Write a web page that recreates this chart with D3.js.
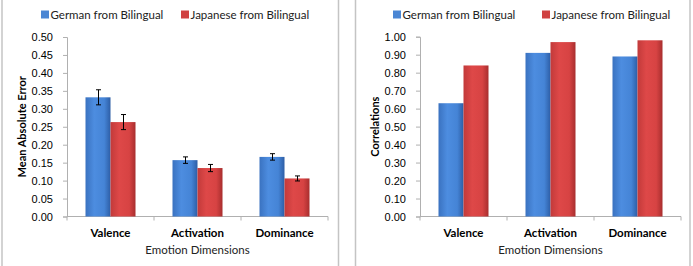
<!DOCTYPE html>
<html lang="en">
<head>
    <meta charset="UTF-8">
    <title>Emotion dimensions</title>
    <script src="https://d3js.org/d3.v7.min.js"></script>
    <style>
        body { margin: 0; background: #fff; }
        svg { display: block; font-family: "Lato", "Open Sans", sans-serif; }
        .tick text { font-size: 11px; fill: #000; }
    </style>
</head>
<body>
    <div id="chart"></div>
    <script>
        // values
        var categories = ["Valence", "Activation", "Dominance"];
        var seriesNames = ["German from Bilingual", "Japanese from Bilingual"];

        var maeGerman = [0.332, 0.157, 0.166];
        var maeJapanese = [0.263, 0.135, 0.106];
        var maeErrGerman = [0.021, 0.009, 0.009];
        var maeErrJapanese = [0.021, 0.010, 0.007];

        var corrGerman = [0.63, 0.91, 0.89];
        var corrJapanese = [0.84, 0.97, 0.98];

        var maeTicks = [0, 0.05, 0.10, 0.15, 0.20, 0.25, 0.30, 0.35, 0.40, 0.45, 0.50];
        var corrTicks = [0, 0.10, 0.20, 0.30, 0.40, 0.50, 0.60, 0.70, 0.80, 0.90, 1.00];

        var svg = d3.select("#chart").append("svg")
            .attr("width", 693)
            .attr("height", 266);

        // bar gradients (excel 2007 look)
        var defs = svg.append("defs");
        function addGrad(id, stops) {
            var g = defs.append("linearGradient").attr("id", id)
                .attr("x1", "0%").attr("x2", "100%").attr("y1", "0%").attr("y2", "0%");
            stops.forEach(s => g.append("stop").attr("offset", s[0]).attr("stop-color", s[1]));
        }
        addGrad("gBlue", [["0%", "#3a72c0"], ["35%", "#4d8de0"], ["75%", "#4584d6"], ["100%", "#2d5ea6"]]);
        addGrad("gRed", [["0%", "#c23a3a"], ["35%", "#de4848"], ["75%", "#d74343"], ["100%", "#a82e2e"]]);
        var fills = ["url(#gBlue)", "url(#gRed)"];
        var legendColors = ["#4a86d4", "#d04242"];

        // panel frames
        [2, 338.5, 355.5, 690].forEach(function (x) {
            svg.append("line")
                .attr("x1", x).attr("x2", x).attr("y1", 0).attr("y2", 266)
                .attr("stroke", "#c4c4c4").attr("stroke-width", 1.5);
        });

        function drawChart(opt) {
            var x = d3.scaleBand()
                .domain(categories)
                .range([opt.left, opt.right]);

            var xs = d3.scaleBand()
                .domain(seriesNames)
                .range([0, x.bandwidth()])
                .paddingOuter(0.74);

            var y = d3.scaleLinear()
                .domain([0, opt.max])
                .range([opt.bottom, opt.top]);

            // y axis
            var yAxis = svg.append("g")
                .attr("transform", "translate(" + opt.left + ",0)")
                .call(d3.axisLeft(y).tickValues(opt.ticks).tickFormat(d3.format(".2f")).tickSizeOuter(0).tickSize(4).tickPadding(10));
            yAxis.select(".domain").attr("stroke", "#b0b0b0");
            yAxis.selectAll(".tick line").attr("stroke", "#b0b0b0");

            // x axis
            var xAxis = svg.append("g")
                .attr("transform", "translate(0," + opt.bottom + ")");
            xAxis.append("line")
                .attr("x1", opt.left).attr("x2", opt.right)
                .attr("stroke", "#b0b0b0");
            xAxis.selectAll(".xt")
                .data(categories.concat(["end"]))
                .join("line")
                .attr("class", "xt")
                .attr("x1", d => d === "end" ? opt.right : x(d))
                .attr("x2", d => d === "end" ? opt.right : x(d))
                .attr("y1", 0).attr("y2", 4)
                .attr("stroke", "#b0b0b0");
            xAxis.selectAll(".xl")
                .data(categories)
                .join("text")
                .attr("class", "xl")
                .attr("x", d => x(d) + x.bandwidth() / 2)
                .attr("y", 20)
                .attr("text-anchor", "middle")
                .style("font-size", "11.5px")
                .style("font-weight", "bold")
                .text(d => d);

            // axis titles
            svg.append("text")
                .attr("x", (opt.left + opt.right) / 2)
                .attr("y", opt.bottom + 37)
                .attr("text-anchor", "middle")
                .style("font-size", "11.5px")
                .style("fill", "#222")
                .text("Emotion Dimensions");

            svg.append("text")
                .attr("transform", "translate(" + opt.ylabelX + "," + (opt.top + opt.bottom) / 2 + ") rotate(-90)")
                .attr("text-anchor", "middle")
                .style("font-size", "11px")
                .style("font-weight", "bold")
                .text(opt.ylabel);

            // bars
            opt.series.forEach(function (vals, si) {
                var name = seriesNames[si];
                svg.append("g").selectAll("rect")
                    .data(vals)
                    .join("rect")
                    .attr("x", (d, i) => x(categories[i]) + xs(name))
                    .attr("y", d => y(d))
                    .attr("width", xs.bandwidth())
                    .attr("height", d => opt.bottom - y(d))
                    .attr("fill", fills[si]);

                if (opt.errors) {
                    var errs = opt.errors[si];
                    var eg = svg.append("g").attr("stroke", "#000").attr("stroke-width", 1);
                    vals.forEach(function (v, i) {
                        var cx = Math.round(x(categories[i]) + xs(name) + xs.bandwidth() / 2) + 0.5;
                        var y1 = y(v + errs[i]), y2 = y(v - errs[i]);
                        eg.append("line").attr("x1", cx).attr("x2", cx).attr("y1", y1).attr("y2", y2);
                        eg.append("line").attr("x1", cx - 2.5).attr("x2", cx + 2.5).attr("y1", y1).attr("y2", y1);
                        eg.append("line").attr("x1", cx - 2.5).attr("x2", cx + 2.5).attr("y1", y2).attr("y2", y2);
                    });
                }
            });

            // legend
            seriesNames.forEach(function (name, si) {
                var lx = opt.legendX[si];
                svg.append("rect")
                    .attr("x", lx).attr("y", 10.5)
                    .attr("width", 8).attr("height", 8)
                    .attr("fill", legendColors[si]);
                svg.append("text")
                    .attr("x", lx + 9.5)
                    .attr("y", 18.5)
                    .style("font-size", "11.5px")
                    .style("fill", "#222")
                    .text(name);
            });
        }

        drawChart({
            left: 67, right: 328, top: 37, bottom: 216.5,
            max: 0.5, ticks: maeTicks,
            series: [maeGerman, maeJapanese],
            errors: [maeErrGerman, maeErrJapanese],
            ylabel: "Mean Absolute Error", ylabelX: 25.5,
            legendX: [41, 181]
        });

        drawChart({
            left: 420, right: 681, top: 36.7, bottom: 216.5,
            max: 1.0, ticks: corrTicks,
            series: [corrGerman, corrJapanese],
            errors: null,
            ylabel: "Correlations", ylabelX: 379,
            legendX: [393, 542]
        });
    </script>
</body>
</html>
